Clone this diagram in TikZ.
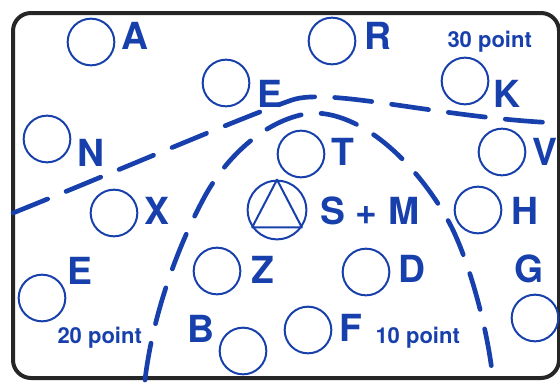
\documentclass[tikz,border=0pt]{standalone}
\usepackage{fontspec}
\setmainfont{TeX Gyre Heros}
\definecolor{inkblue}{RGB}{24,64,172}
\definecolor{framegray}{RGB}{38,38,38}

\tikzset{every picture/.style={line width=0.75pt}}
\tikzset{
  spot/.style={draw=inkblue, line width=1.5pt, circle, inner sep=0pt, minimum size=35pt},
  bigspot/.style={spot, minimum size=44pt},
  lbl/.style={text=inkblue, inner sep=0pt, font=\fontsize{28}{30}\selectfont\bfseries},
  ptlbl/.style={text=inkblue, inner sep=0pt, anchor=base west, font=\fontsize{16.5}{18}\selectfont\bfseries},
  zoneline/.style={draw=inkblue, line width=3.5pt, line cap=round, dash pattern=on 28pt off 15pt}
}

\begin{document}
\begin{tikzpicture}[x=0.75pt,y=0.75pt,yscale=-1,xscale=1]
	\useasboundingbox (0,0) rectangle (560,382);

	%Rounded Rect
	\draw [color=framegray, line width=3pt, rounded corners=13.5pt] (13,13) rectangle (559,378) ;

	%Curve: outer zone
	\draw [zoneline] (13,213) .. controls (120,170) and (240,118) .. (292,100) .. controls (330,87) and (440,118) .. (558,123) ;
	%Curve: inner zone
	\draw [zoneline] (145,380) .. controls (152,320) and (175,251) .. (205,196) .. controls (227,156) and (267,118) .. (312,113) .. controls (370,112) and (427,178) .. (452,228) .. controls (470,265) and (488,330) .. (493,380) ;

	%Shape: Circle
	\draw (91,42) node [spot] (cA) {};
	\draw (332,41) node [spot] (cR) {};
	\draw (226,83) node [spot] (cE1) {};
	\draw (465,81) node [spot] (cK) {};
	\draw (47,139) node [spot] (cN) {};
	\draw (301,154) node [spot] (cT) {};
	\draw (502,152) node [spot] (cV) {};
	\draw (114,213) node [spot] (cX) {};
	\draw (478,210) node [spot] (cH) {};
	\draw (217,271) node [spot] (cZ) {};
	\draw (366,272) node [spot] (cD) {};
	\draw (42,298) node [spot] (cE2) {};
	\draw (535,318) node [spot] (cG) {};
	\draw (308,330) node [spot] (cF) {};
	\draw (243,351) node [spot] (cB) {};
	%Shape: Circle with triangle
	\draw (277,210) node [bigspot] (cS) {};
	\draw [inkblue, line width=1.5pt, line join=round] (cS.90) -- (cS.215) -- (cS.325) -- cycle ;

	% Text Node
	\draw (135,36) node [lbl] (tA) {A};
	\draw (378,36) node [lbl] (tR) {R};
	\draw (270,94) node [lbl] (tE1) {E};
	\draw (507,94) node [lbl] (tK) {K};
	\draw (91,153) node [lbl] (tN) {N};
	\draw (343,152) node [lbl] (tT) {T};
	\draw (545,152) node [lbl] (tV) {V};
	\draw (157,211) node [lbl] (tX) {X};
	\draw (370,211) node [lbl] (tS) {S + M};
	\draw (525,211) node [lbl] (tH) {H};
	\draw (80,271) node [lbl] (tE2) {E};
	\draw (263,270) node [lbl] (tZ) {Z};
	\draw (412,269) node [lbl] (tD) {D};
	\draw (529,269) node [lbl] (tG) {G};
	\draw (201,329) node [lbl] (tB) {B};
	\draw (351,328) node [lbl] (tF) {F};
	% Text Node
	\draw (447,47) node [ptlbl] (p30) {30 point};
	\draw (57,343) node [ptlbl] (p20) {20 point};
	\draw (375,343) node [ptlbl] (p10) {10 point};

\end{tikzpicture}
\end{document}
